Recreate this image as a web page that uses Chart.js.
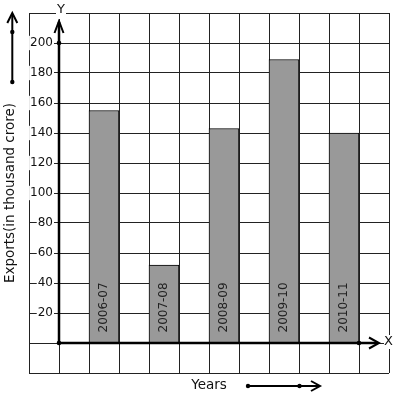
<!DOCTYPE html>
<html><head><meta charset="utf-8">
<script src="https://cdn.jsdelivr.net/npm/chart.js@4"></script>
<style>html,body{margin:0;padding:0;background:#fff}#wrap{width:397px;height:399px;position:relative}</style>
</head><body><div id="wrap"><canvas id="c"></canvas></div>
<script>
const years = ['2006-07', '2007-08', '2008-09', '2009-10', '2010-11'];
const exportsValues = [155, 52, 143, 189, 140];
const yTickLabels = ['20', '40', '60', '80', '100', '120', '140', '160', '180', '200'];
const xAxisTitle = 'Years';
const yAxisTitle = 'Exports(in thousand crore)';

Chart.defaults.font.family = '"DejaVu Sans", sans-serif';
Chart.defaults.color = '#111';

const showLabel = v => yTickLabels.includes(String(v));

const decor = {
  id: 'decor',
  afterDatasetsDraw(chart) {
    const {ctx, scales: {x, y}} = chart;
    const x0 = x.getPixelForValue(0), y0 = y.getPixelForValue(0);
    ctx.save();
    // bar labels
    const meta = chart.getDatasetMeta(0);
    ctx.font = '12px "DejaVu Sans"';
    ctx.fillStyle = '#222';
    ctx.textAlign = 'left';
    ctx.textBaseline = 'alphabetic';
    meta.data.forEach((bar, i) => {
      ctx.save();
      ctx.translate(bar.x + 3, bar.base - 10);
      ctx.rotate(-Math.PI / 2);
      ctx.fillText(years[i], 0, 0);
      ctx.restore();
    });
    const chevron = (tx, ty, dx, dy, len, half) => {
      const px = -dy, py = dx;
      ctx.beginPath();
      ctx.moveTo(tx - dx * len + px * half, ty - dy * len + py * half);
      ctx.lineTo(tx, ty);
      ctx.lineTo(tx - dx * len - px * half, ty - dy * len - py * half);
      ctx.stroke();
    };
    const dot = (cx, cy, r) => { ctx.beginPath(); ctx.arc(cx, cy, r, 0, Math.PI * 2); ctx.fill(); };
    ctx.strokeStyle = '#000';
    ctx.fillStyle = '#000';
    ctx.lineWidth = 2.5;
    // Y axis
    const yTip = y.top + 8;
    ctx.beginPath(); ctx.moveTo(x0, y0); ctx.lineTo(x0, yTip + 1); ctx.stroke();
    ctx.lineWidth = 2;
    chevron(x0, yTip, 0, -1, 12, 4.5);
    // X axis
    const xTip = x.right - 10;
    ctx.lineWidth = 2.5;
    ctx.beginPath(); ctx.moveTo(x0, y0); ctx.lineTo(xTip - 1, y0); ctx.stroke();
    ctx.lineWidth = 2;
    chevron(xTip, y0, 1, 0, 10, 5.5);
    dot(x0, y0, 2.3);
    dot(x0, y.getPixelForValue(200), 2.3);
    dot(x.getPixelForValue(10), y0, 2.3);
    // axis letters
    ctx.font = '13px "DejaVu Sans"';
    ctx.textAlign = 'center';
    ctx.textBaseline = 'middle';
    ctx.fillStyle = '#fff';
    ctx.fillRect(x0 - 3, y.top - 6, 10, 12);
    ctx.fillRect(x.right - 5, y0 - 8, 10, 14);
    ctx.fillStyle = '#111';
    ctx.fillText('Y', x0 + 2, y.top - 3);
    ctx.fillText('X', x.right - 0.5, y0 - 1.5);
    // Y title arrow (upper-left)
    ctx.fillStyle = '#000';
    const ax = 12.3;
    ctx.lineWidth = 2;
    ctx.beginPath(); ctx.moveTo(ax, y.top + 69); ctx.lineTo(ax, y.top + 1); ctx.stroke();
    chevron(ax, y.top, 0, -1, 10, 5);
    dot(ax, y.top + 19, 2.2);
    dot(ax, y.top + 69, 2.2);
    // X title arrow (bottom)
    const by = 386;
    const bx0 = x.left + 219, bx1 = x.left + 270.5, btip = x.left + 291;
    ctx.beginPath(); ctx.moveTo(bx0, by); ctx.lineTo(btip - 1, by); ctx.stroke();
    chevron(btip, by, 1, 0, 9, 5);
    dot(bx0, by, 2.2);
    dot(bx1, by, 2.2);
    ctx.restore();
  }
};

new Chart(document.getElementById('c'), {
  type: 'bar',
  data: {
    datasets: [{
      data: exportsValues.map((v, i) => ({x: 1.5 + 2 * i, y: v})),
      backgroundColor: '#999999',
      borderColor: '#000',
      borderWidth: 1,
      categoryPercentage: 1,
      barPercentage: 1
    }]
  },
  options: {
    responsive: true,
    maintainAspectRatio: false,
    animation: false,
    events: [],
    layout: {padding: {top: 13, right: 8, left: 0, bottom: 0}},
    plugins: {legend: {display: false}, tooltip: {enabled: false}},
    scales: {
      x: {
        type: 'linear',
        min: -1, max: 11,
        offset: false,
        ticks: {stepSize: 1, display: false},
        grid: {color: '#222', lineWidth: 1, drawTicks: false, offset: false},
        border: {display: false},
        title: {display: true, text: xAxisTitle, font: {size: 13.5}, color: '#111', padding: {top: 0, bottom: 5}},
        afterFit: s => { s.height = 26; }
      },
      y: {
        type: 'linear',
        min: -20, max: 220,
        ticks: {
          stepSize: 20,
          padding: -24,
          font: {size: 12},
          color: '#111',
          callback: v => showLabel(v) ? String(v) : '',
          showLabelBackdrop: c => !!(c.tick && showLabel(c.tick.value)),
          backdropColor: '#fff',
          backdropPadding: {top: 0, bottom: 0, left: 1, right: 1}
        },
        grid: {color: '#222', lineWidth: 1, drawTicks: false},
        border: {display: false},
        title: {display: true, text: yAxisTitle, font: {size: 13.5}, color: '#111', padding: {top: 2.5, bottom: 0}},
        afterFit: s => {
          s.width = 29;
          // labels sit inside the plot area, so do not clip them to the axis box
          s._computeLabelArea = () => undefined;
        }
      }
    }
  },
  plugins: [decor]
});
</script>
</body></html>
